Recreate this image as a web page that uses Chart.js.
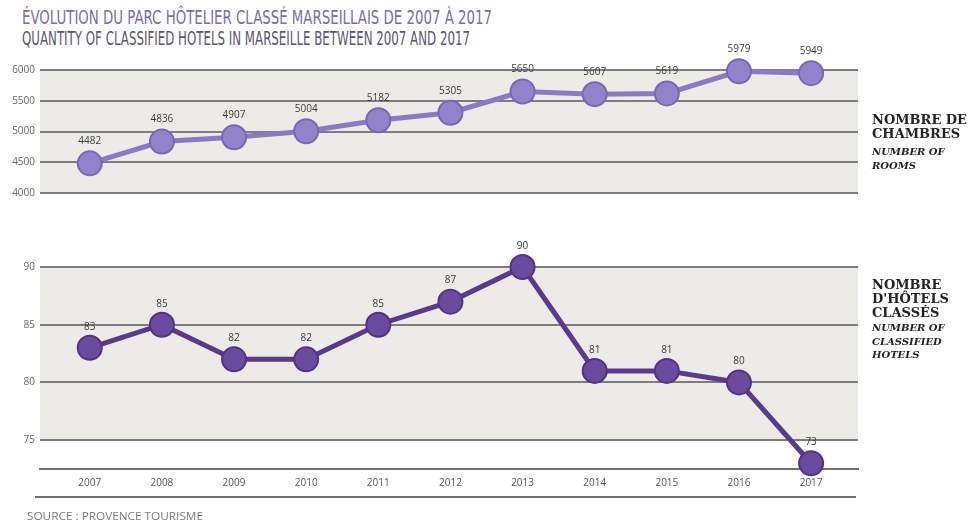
<!DOCTYPE html>
<html lang="fr">
<head>
<meta charset="utf-8">
<title>Parc hôtelier classé marseillais 2007-2017</title>
<script src="https://cdn.jsdelivr.net/npm/chart.js"></script>
<style>
  html, body { margin: 0; padding: 0; background: #fff; }
  body { width: 973px; height: 527px; position: relative; overflow: hidden; }
  canvas { position: absolute; left: 0; }
  .fit { position: absolute; white-space: nowrap; transform-origin: 0 0; }
  .title { left: 22px; top: 6px; font: 19px "Liberation Sans Narrow", "DejaVu Sans Condensed", sans-serif; color: #7b6da8; }
  .subtitle { left: 22px; top: 27px; font: 19px "Liberation Sans Narrow", "DejaVu Sans Condensed", sans-serif; color: #5d566f; }
  .source { left: 27px; top: 509px; font: 10px "Open Sans", sans-serif; color: #7a7a7a; }
  .side { position: absolute; left: 872px; color: #232323; font-family: "DejaVu Serif", serif; }
  .side .fr { font-size: 13px; line-height: 14px; font-weight: 600; }
  .side .en { font-size: 10px; line-height: 13.5px; font-style: italic; font-weight: bold; }
</style>
</head>
<body>
<div class="fit title" data-w="470">ÉVOLUTION DU PARC HÔTELIER CLASSÉ MARSEILLAIS DE 2007 À 2017</div>
<div class="fit subtitle" data-w="448">QUANTITY OF CLASSIFIED HOTELS IN MARSEILLE BETWEEN 2007 AND 2017</div>

<canvas id="roomsChart" width="973" height="200" style="top:40px"></canvas>
<canvas id="hotelsChart" width="973" height="287" style="top:240px"></canvas>

<div class="side" style="top:113px">
  <div class="fit fr" data-w="96" style="position:relative">NOMBRE DE</div>
  <div class="fit fr" data-w="96" style="position:relative">CHAMBRES</div>
  <div class="en" style="margin-top:4px">NUMBER OF<br>ROOMS</div>
</div>
<div class="side" style="top:278px">
  <div class="fr">NOMBRE<br>D'HÔTELS<br>CLASSÉS</div>
  <div class="en" style="margin-top:1px">NUMBER OF<br>CLASSIFIED<br>HOTELS</div>
</div>

<div class="fit source" data-w="176">SOURCE : PROVENCE TOURISME</div>

<script>
// années et séries
const years = [2007, 2008, 2009, 2010, 2011, 2012, 2013, 2014, 2015, 2016, 2017];
const rooms = [4482, 4836, 4907, 5004, 5182, 5305, 5650, 5607, 5619, 5979, 5949];
const hotels = [83, 85, 82, 82, 85, 87, 90, 81, 81, 80, 73];
const roomTicks = [4000, 4500, 5000, 5500, 6000];
const hotelTicks = [75, 80, 85, 90];

// textes condensés : on étire le texte à la largeur voulue (sans jamais l'élargir pour les libellés de droite)
document.querySelectorAll('.fit').forEach(el => {
    const w = el.getBoundingClientRect().width;
    let k = el.dataset.w / w;
    if (el.classList.contains('fr')) k = Math.min(k, 1);
    el.style.transform = 'scaleX(' + k + ')';
});

const tickFont = { family: 'Open Sans', size: 10 };

// valeurs écrites au-dessus des points
const valueLabels = {
    id: 'valueLabels',
    afterDatasetsDraw(chart, args, opts) {
        const ctx = chart.ctx;
        const meta = chart.getDatasetMeta(0);
        const values = chart.data.datasets[0].data;
        ctx.save();
        ctx.font = '10px "Open Sans"';
        ctx.fillStyle = '#3c3c3c';
        ctx.textAlign = 'center';
        ctx.textBaseline = 'middle';
        meta.data.forEach((pt, i) => {
            ctx.fillText(String(values[i].y), pt.x, pt.y - opts.offset);
        });
        ctx.restore();
    }
};

// fond gris entre la première et la dernière graduation
const panelBg = {
    id: 'panelBg',
    beforeDraw(chart, args, opts) {
        const y = chart.scales.y;
        const area = chart.chartArea;
        const top = y.getPixelForValue(opts.ticks[opts.ticks.length - 1]);
        const bottom = y.getPixelForValue(opts.ticks[0]);
        const ctx = chart.ctx;
        ctx.save();
        ctx.fillStyle = '#ecebe7';
        ctx.fillRect(area.left, top, area.right - area.left, bottom - top);
        ctx.restore();
    }
};

// trait sous les années
const bottomRule = {
    id: 'bottomRule',
    afterDraw(chart) {
        const x = chart.scales.x;
        const ctx = chart.ctx;
        ctx.save();
        ctx.strokeStyle = '#6f6f6f';
        ctx.lineWidth = 2;
        ctx.beginPath();
        ctx.moveTo(35, x.bottom);
        ctx.lineTo(856, x.bottom);
        ctx.stroke();
        ctx.restore();
    }
};

function makeChart(id, values, ticks, yMin, yMax, colors, showYears, padding, labelOffset) {
    return new Chart(document.getElementById(id), {
        type: 'line',
        data: {
            datasets: [{
                data: years.map((yr, i) => ({ x: yr, y: values[i] })),
                borderColor: colors.line,
                borderWidth: 5,
                pointRadius: 12,
                pointBorderWidth: 2,
                pointBackgroundColor: colors.fill,
                pointBorderColor: colors.edge,
                tension: 0,
                clip: false
            }]
        },
        options: {
            responsive: false,
            animation: false,
            layout: { padding: padding },
            plugins: {
                legend: { display: false },
                tooltip: { enabled: false },
                valueLabels: { offset: labelOffset },
                panelBg: { ticks: ticks }
            },
            scales: {
                x: {
                    type: 'linear',
                    display: showYears,
                    min: 2006.31,
                    max: 2017.65,
                    afterBuildTicks: s => { s.ticks = years.map(v => ({ value: v })); },
                    afterFit: s => { s.height = 28; },
                    grid: { display: false, drawTicks: false },
                    border: { display: true, color: '#6f6f6f', width: 2 },
                    ticks: { color: '#555', font: tickFont, padding: 8, maxRotation: 0, callback: v => String(v) }
                },
                y: {
                    min: yMin,
                    max: yMax,
                    afterBuildTicks: s => { s.ticks = ticks.map(v => ({ value: v })); },
                    afterFit: s => { s.width = 40; },
                    grid: { color: '#7d7d7d', lineWidth: 2, drawTicks: false },
                    border: { display: false },
                    ticks: { color: '#666', font: tickFont, padding: 5, callback: v => String(v) }
                }
            }
        },
        plugins: showYears ? [panelBg, valueLabels, bottomRule] : [panelBg, valueLabels]
    });
}

makeChart('roomsChart', rooms, roomTicks, 4000, 6000,
    { line: '#8b7ac3', fill: '#9282c9', edge: '#7a66b7' },
    false, { top: 30, right: 115, bottom: 19, left: 0 }, 22);

makeChart('hotelsChart', hotels, hotelTicks, 72.5, 90,
    { line: '#5b3a8d', fill: '#6b4b9d', edge: '#53328a' },
    true, { top: 27, right: 115, bottom: 30, left: 0 }, 21);
</script>
</body>
</html>
